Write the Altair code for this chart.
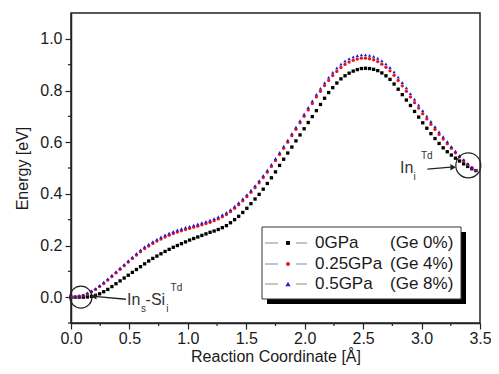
import altair as alt
import pandas as pd

# ---------------- data ----------------
X = [0.000, 0.035, 0.070, 0.105, 0.140, 0.175, 0.210, 0.245, 0.280, 0.315,
     0.350, 0.385, 0.420, 0.455, 0.490, 0.525, 0.560, 0.595, 0.630, 0.665,
     0.700, 0.735, 0.770, 0.805, 0.840, 0.875, 0.910, 0.945, 0.980, 1.015,
     1.050, 1.085, 1.120, 1.155, 1.190, 1.225, 1.260, 1.295, 1.330, 1.365,
     1.400, 1.435, 1.470, 1.505, 1.540, 1.575, 1.610, 1.645, 1.680, 1.715,
     1.750, 1.785, 1.820, 1.855, 1.890, 1.925, 1.960, 1.995, 2.030, 2.065,
     2.100, 2.135, 2.170, 2.205, 2.240, 2.275, 2.310, 2.345, 2.380, 2.415,
     2.450, 2.485, 2.520, 2.555, 2.590, 2.625, 2.660, 2.695, 2.730, 2.765,
     2.800, 2.835, 2.870, 2.905, 2.940, 2.975, 3.010, 3.045, 3.080, 3.115,
     3.150, 3.185, 3.220, 3.255, 3.290, 3.325, 3.360, 3.395, 3.430, 3.465]

E_0GPA = [0.000, 0.000, 0.000, 0.000, 0.001, 0.003, 0.007, 0.013, 0.021, 0.030,
          0.041, 0.052, 0.063, 0.074, 0.085, 0.096, 0.107, 0.118, 0.129, 0.140,
          0.150, 0.159, 0.168, 0.177, 0.185, 0.193, 0.200, 0.207, 0.214, 0.221,
          0.227, 0.233, 0.239, 0.245, 0.251, 0.256, 0.262, 0.269, 0.277, 0.288,
          0.300, 0.313, 0.328, 0.344, 0.362, 0.380, 0.398, 0.418, 0.440, 0.462,
          0.485, 0.510, 0.534, 0.558, 0.581, 0.605, 0.628, 0.652, 0.676, 0.699,
          0.722, 0.746, 0.770, 0.792, 0.811, 0.829, 0.845, 0.857, 0.867, 0.875,
          0.881, 0.885, 0.886, 0.885, 0.882, 0.877, 0.868, 0.857, 0.843, 0.825,
          0.805, 0.784, 0.763, 0.742, 0.719, 0.697, 0.675, 0.654, 0.633, 0.614,
          0.595, 0.578, 0.563, 0.550, 0.538, 0.527, 0.516, 0.506, 0.497, 0.490]

E_025GPA = [0.000, 0.001, 0.004, 0.007, 0.013, 0.021, 0.030, 0.041, 0.053, 0.066,
            0.080, 0.094, 0.108, 0.122, 0.136, 0.150, 0.163, 0.176, 0.188, 0.198,
            0.208, 0.217, 0.225, 0.233, 0.240, 0.246, 0.252, 0.257, 0.262, 0.266,
            0.271, 0.275, 0.280, 0.285, 0.290, 0.296, 0.303, 0.311, 0.320, 0.331,
            0.344, 0.358, 0.373, 0.389, 0.406, 0.424, 0.443, 0.463, 0.484, 0.506,
            0.529, 0.552, 0.576, 0.600, 0.625, 0.650, 0.675, 0.700, 0.725, 0.750,
            0.775, 0.797, 0.819, 0.839, 0.858, 0.874, 0.889, 0.901, 0.910, 0.917,
            0.922, 0.925, 0.925, 0.923, 0.919, 0.912, 0.902, 0.890, 0.876, 0.859,
            0.839, 0.818, 0.797, 0.775, 0.753, 0.732, 0.710, 0.690, 0.669, 0.650,
            0.630, 0.612, 0.594, 0.576, 0.559, 0.543, 0.528, 0.514, 0.501, 0.490]

E_05GPA = [0.000, 0.002, 0.005, 0.009, 0.016, 0.024, 0.033, 0.045, 0.058, 0.071,
           0.085, 0.099, 0.113, 0.127, 0.141, 0.155, 0.169, 0.183, 0.195, 0.205,
           0.215, 0.224, 0.233, 0.241, 0.248, 0.254, 0.260, 0.265, 0.270, 0.274,
           0.279, 0.283, 0.288, 0.293, 0.298, 0.304, 0.311, 0.319, 0.328, 0.339,
           0.352, 0.366, 0.381, 0.397, 0.414, 0.432, 0.451, 0.471, 0.492, 0.514,
           0.537, 0.560, 0.584, 0.608, 0.633, 0.658, 0.683, 0.709, 0.734, 0.760,
           0.785, 0.808, 0.830, 0.851, 0.870, 0.887, 0.902, 0.914, 0.923, 0.930,
           0.935, 0.938, 0.938, 0.936, 0.932, 0.925, 0.915, 0.903, 0.889, 0.872,
           0.852, 0.831, 0.810, 0.788, 0.766, 0.744, 0.722, 0.701, 0.680, 0.660,
           0.640, 0.621, 0.602, 0.583, 0.565, 0.548, 0.532, 0.517, 0.503, 0.491]

SERIES = ["0GPa", "0.25GPa", "0.5GPa"]
GE_LABELS = ["(Ge 0%)", "(Ge 4%)", "(Ge 8%)"]
COLORS = ["#000000", "#e3141c", "#1b1bd8"]
SHAPES = ["square", "circle", "triangle-up"]
SIZES = [11, 11, 22]

X_MAJOR = [0.0, 0.5, 1.0, 1.5, 2.0, 2.5, 3.0, 3.5]
X_MINOR = [0.25, 0.75, 1.25, 1.75, 2.25, 2.75, 3.25]
Y_MAJOR = [0.0, 0.2, 0.4, 0.6, 0.8, 1.0]
Y_MINOR = [-0.1, 0.1, 0.3, 0.5, 0.7, 0.9]

# annotations (data coordinates)
CIRCLE_X = [0.085, 3.40]
CIRCLE_Y = [0.0, 0.51]
CIRCLE_SIZE = [484, 625]

ARROW_ID = ["a", "a", "b", "b"]
ARROW_X = [0.20, 0.47, 3.05, 3.25]
ARROW_Y = [0.003, -0.008, 0.496, 0.503]
HEAD_X = [0.195, 3.27]
HEAD_Y = [0.003, 0.503]
HEAD_SHAPE = ["triangle-left", "triangle-right"]

LABEL_TEXT = ["In", "s", "-Si", "i", "Td", "In", "i", "Td"]
LABEL_X = [0.480, 0.600, 0.638, 0.815, 0.852, 2.815, 2.930, 2.995]
LABEL_Y = [-0.030, -0.057, -0.030, -0.057, 0.022, 0.481, 0.454, 0.535]
LABEL_SIZE = [16, 10, 16, 10, 10, 16, 10, 10]

FONT = "Liberation Sans"
INK = "#1a1a1a"

rows = []
for name, ys in zip(SERIES, [E_0GPA, E_025GPA, E_05GPA]):
    for xv, yv in zip(X, ys):
        rows.append({"x": xv, "E": yv, "series": name})
df = pd.DataFrame(rows)

xscale = alt.Scale(domain=[0, 3.5], nice=False, zero=False)
yscale = alt.Scale(domain=[-0.1, 1.1], nice=False, zero=False)

xaxis = alt.Axis(values=X_MAJOR, format=".1f", title="Reaction Coordinate [Å]", grid=False,
                 tickSize=6, labelFlush=False, labelOverlap=False, labelPadding=1, titlePadding=2)
yaxis = alt.Axis(values=Y_MAJOR, format=".1f", title="Energy [eV]", grid=False,
                 tickSize=6, labelFlush=False, labelOverlap=False, labelPadding=3, titlePadding=9)

points = alt.Chart(df).mark_point(filled=True, opacity=1).encode(
    x=alt.X("x:Q", scale=xscale, axis=xaxis),
    y=alt.Y("E:Q", scale=yscale, axis=yaxis),
    color=alt.Color("series:N", scale=alt.Scale(domain=SERIES, range=COLORS), legend=None),
    shape=alt.Shape("series:N", scale=alt.Scale(domain=SERIES, range=SHAPES), legend=None),
    size=alt.Size("series:N", scale=alt.Scale(domain=SERIES, range=SIZES), legend=None),
)

xminor = alt.Chart(pd.DataFrame({"x": X_MINOR})).mark_rule(color="#222222", strokeWidth=1.2).encode(
    x=alt.X("x:Q"), y=alt.value(310), y2=alt.value(313))
yminor = alt.Chart(pd.DataFrame({"E": Y_MINOR})).mark_rule(color="#222222", strokeWidth=1.2).encode(
    y=alt.Y("E:Q"), x=alt.value(-3), x2=alt.value(0))

circles = alt.Chart(pd.DataFrame({"x": CIRCLE_X, "E": CIRCLE_Y, "s": CIRCLE_SIZE})).mark_point(
    shape="circle", filled=False, stroke="#222222", strokeWidth=1.2, opacity=1
).encode(x="x:Q", y="E:Q", size=alt.Size("s:Q", scale=None))

arrows = alt.Chart(pd.DataFrame({"id": ARROW_ID, "x": ARROW_X, "E": ARROW_Y})).mark_line(
    color="#222222", strokeWidth=1.3
).encode(x="x:Q", y="E:Q", detail="id:N")

heads = alt.Chart(pd.DataFrame({"x": HEAD_X, "E": HEAD_Y, "sh": HEAD_SHAPE})).mark_point(
    filled=True, color="#222222", size=40, opacity=1
).encode(x="x:Q", y="E:Q", shape=alt.Shape("sh:N", scale=None))

labels = alt.Chart(pd.DataFrame({"t": LABEL_TEXT, "x": LABEL_X, "E": LABEL_Y, "fs": LABEL_SIZE})).mark_text(
    align="left", baseline="alphabetic", font=FONT, color="#333333"
).encode(x="x:Q", y="E:Q", text="t:N", size=alt.Size("fs:Q", scale=None))

# ---------------- legend box (pixel positions inside the plot area) ----------------
one = pd.DataFrame({"k": [0]})
legend_layers = [
    alt.Chart(one).mark_rect(fill="#000000").encode(
        x=alt.value(196), x2=alt.value(395), y=alt.value(219), y2=alt.value(291)),
    alt.Chart(one).mark_rect(fill="#ffffff", stroke="#333333", strokeWidth=1).encode(
        x=alt.value(191), x2=alt.value(390), y=alt.value(214), y2=alt.value(286)),
]
ROW_Y = [230, 251, 271]
for i in range(3):
    ry = ROW_Y[i]
    legend_layers += [
        alt.Chart(one).mark_rule(color="#8a8a8a", strokeWidth=1).encode(
            x=alt.value(194), x2=alt.value(207), y=alt.value(ry)),
        alt.Chart(one).mark_rule(color="#8a8a8a", strokeWidth=1).encode(
            x=alt.value(225), x2=alt.value(236), y=alt.value(ry)),
        alt.Chart(one).mark_point(filled=True, opacity=1, shape=SHAPES[i], color=COLORS[i],
                                  size=SIZES[i] + 4).encode(
            x=alt.value(217), y=alt.value(ry)),
        alt.Chart(one).mark_text(align="left", baseline="middle", font=FONT, fontSize=17,
                                 color=INK, text=SERIES[i]).encode(
            x=alt.value(244), y=alt.value(ry)),
        alt.Chart(one).mark_text(align="left", baseline="middle", font=FONT, fontSize=17,
                                 color=INK, text=GE_LABELS[i]).encode(
            x=alt.value(319), y=alt.value(ry)),
    ]

chart = alt.layer(points, xminor, yminor, circles, arrows, heads, labels, *legend_layers).properties(
    width=409, height=310,
    autosize=alt.AutoSizeParams(type="none"),
    padding={"left": 63, "top": 5, "right": 11, "bottom": 42},
).configure_view(
    stroke="#222222", strokeWidth=1.5
).configure_axis(
    labelFont=FONT, titleFont=FONT, labelFontSize=16, titleFontSize=16,
    labelColor=INK, titleColor=INK, titleFontWeight="normal",
    domainColor="#222222", domainWidth=1.5, tickColor="#222222", tickWidth=1.2,
)

chart.save("out.html", embed_options={"renderer": "svg", "actions": False})
